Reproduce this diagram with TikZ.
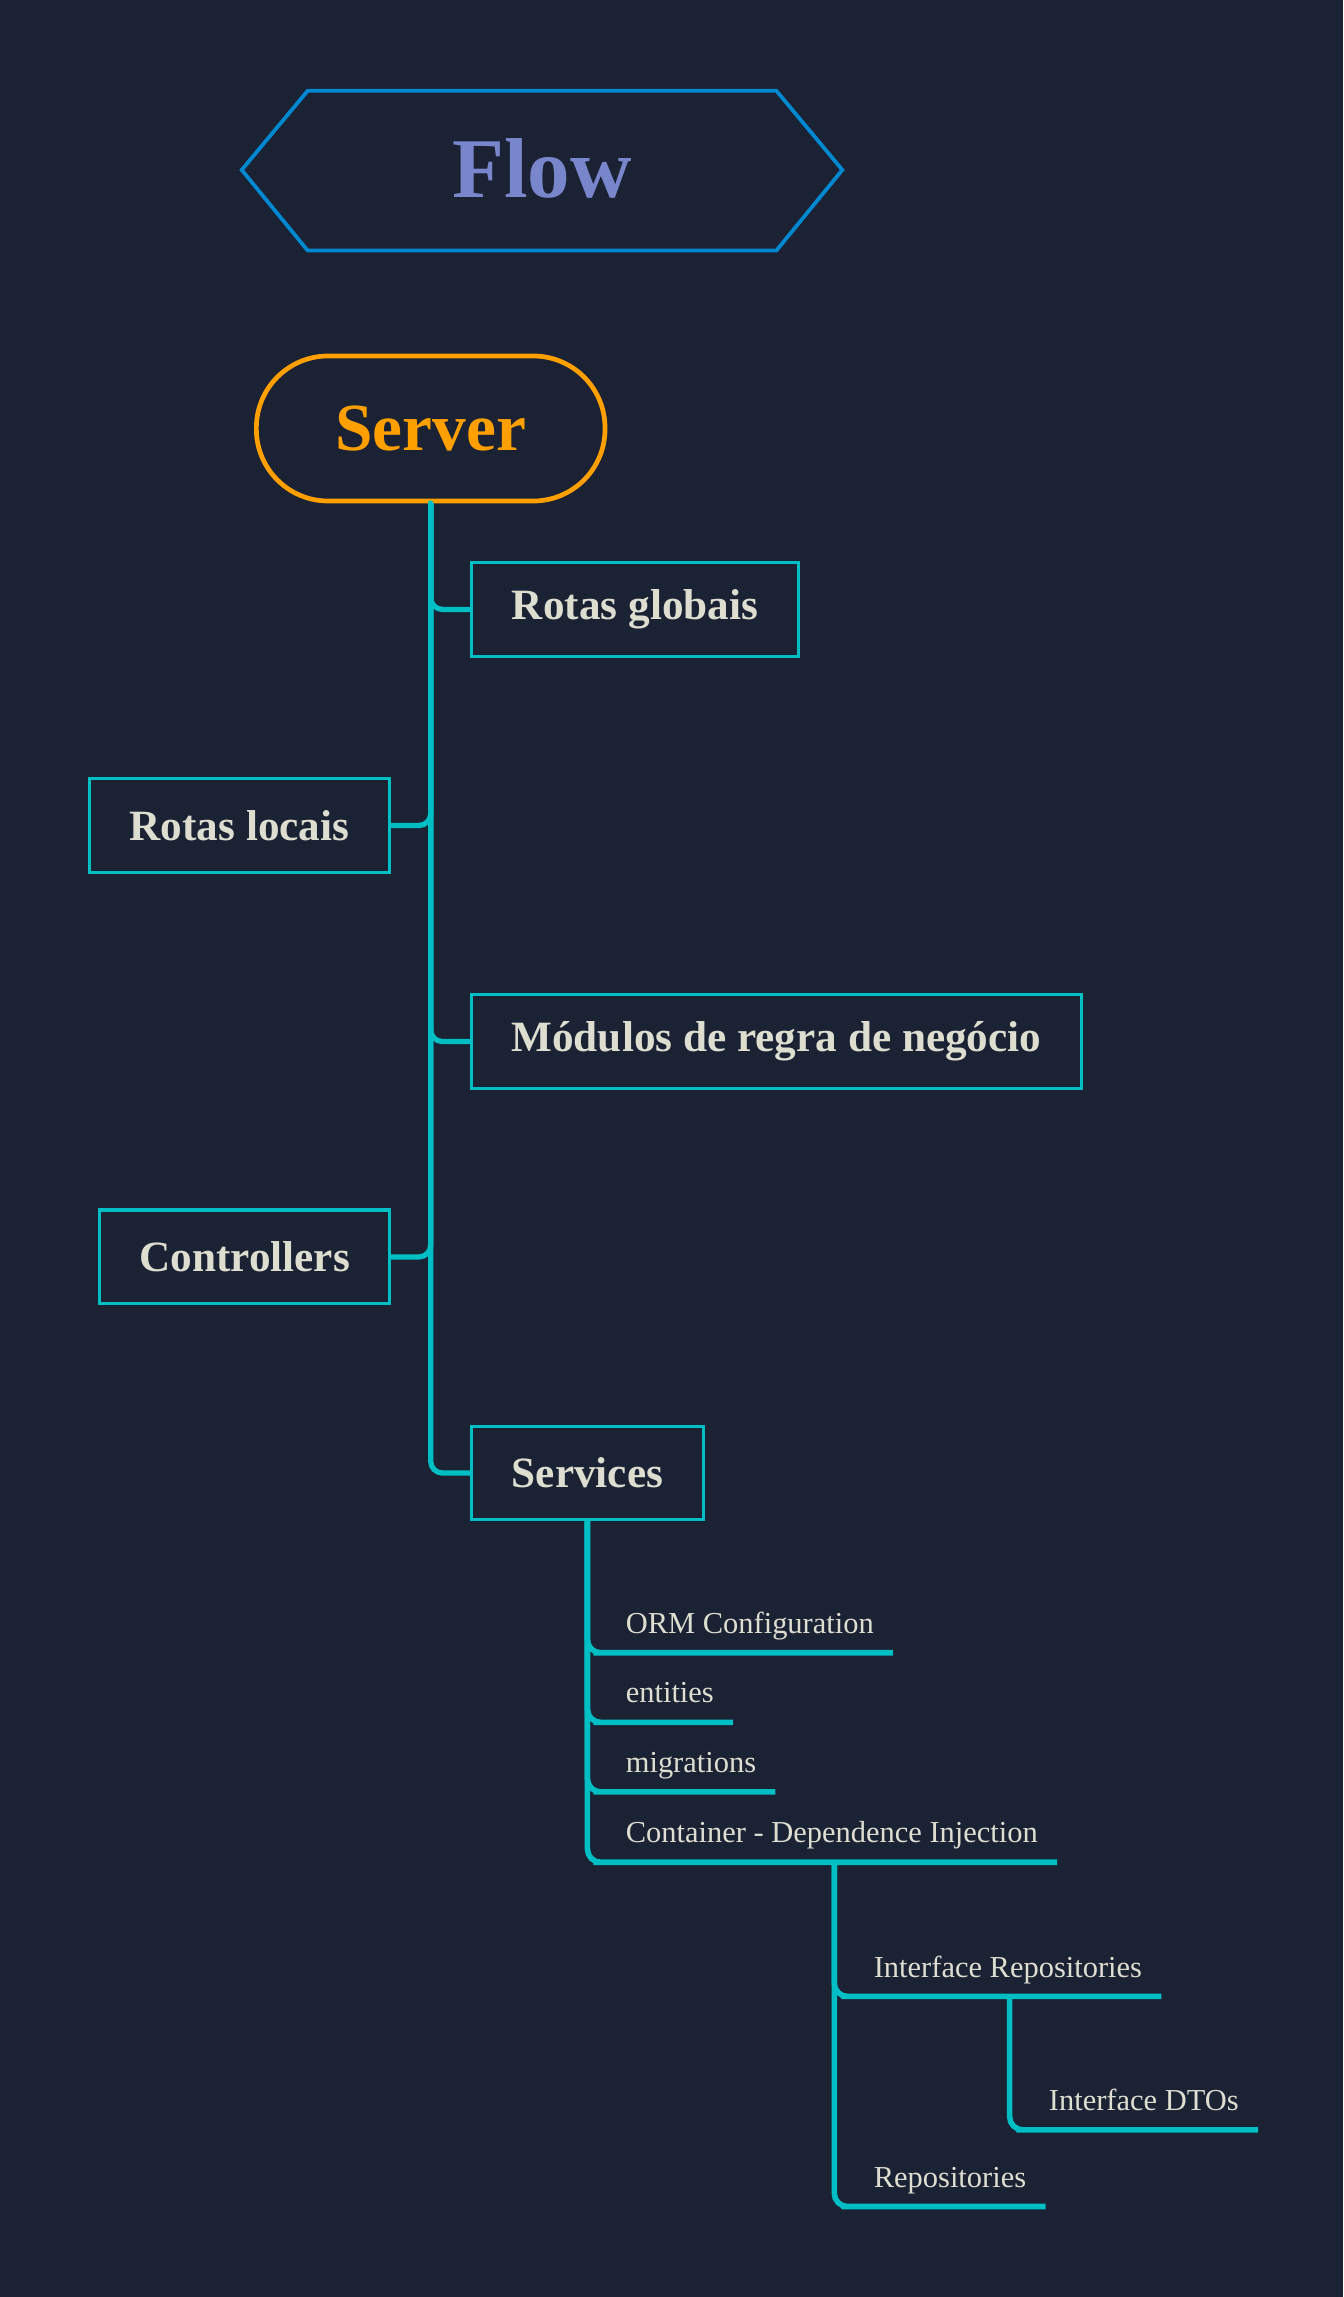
\documentclass[tikz,border=0pt]{standalone}
\usepackage{fontspec}
\setmainfont{Liberation Serif}
\usetikzlibrary{calc}
\definecolor{bg}{RGB}{27,34,52}
\definecolor{hexc}{RGB}{2,136,209}
\definecolor{flowc}{RGB}{121,134,203}
\definecolor{orangec}{RGB}{255,160,0}
\definecolor{cyanc}{RGB}{0,191,196}
\definecolor{txt}{RGB}{221,221,208}
\begin{document}
\begin{tikzpicture}[x=1pt,y=-1pt,
  box/.style={draw=cyanc, line width=2.2pt, minimum height=64pt, text=txt,
    font=\fontsize{29.5}{32}\selectfont\bfseries, inner sep=0pt},
  leaf/.style={text=txt, font=\fontsize{20.8}{23}\selectfont, inner xsep=13pt,
    inner ysep=13pt, text depth=0pt, anchor=base west},
  conn/.style={draw=cyanc, line width=3.6pt, rounded corners=8pt, line cap=round},
  sub/.style={draw=cyanc, line width=3.8pt, rounded corners=9pt}]
\fill[bg] (0,0) rectangle (917,1568);
\useasboundingbox (0,0) rectangle (917,1568);
% title
\draw[hexc, line width=2.6pt] (165,116) -- (210,62) -- (530,62) -- (575,116) -- (530,171) -- (210,171) -- cycle;
\node[text=flowc, font=\fontsize{58}{62}\selectfont\bfseries, inner sep=0pt] (title) at (370,115) {Flow};
% server
\node[draw=orangec, line width=3.2pt, rounded corners=49pt, minimum width=238pt, minimum height=99pt,
  text=orangec, font=\fontsize{46}{50}\selectfont\bfseries, inner sep=0pt] (server) at (294,292.5) {Server};
% boxes
\node[box, minimum width=223pt] (rg) at (433.5,416) {Rotas globais};
\node[box, minimum width=205pt] (rl) at (163.5,563.5) {Rotas locais};
\node[box, minimum width=416pt] (mod) at (530,711) {Módulos de regra de negócio};
\node[box, minimum width=198pt] (ctl) at (167,858) {Controllers};
\node[box, minimum width=158pt] (srv) at (401,1005.5) {Services};
% trunk connectors
\draw[conn] (server.south) |- (rg.west);
\draw[conn] (server.south) |- (rl.east);
\draw[conn] (server.south) |- (mod.west);
\draw[conn] (server.south) |- (ctl.east);
\draw[conn] (server.south) |- (srv.west);
% services subtree
\node[leaf] (orm) at (414,1115) {ORM Configuration};
\node[leaf] (ent) at (414,1162.5) {entities};
\node[leaf] (mig) at (414,1210) {migrations};
\node[leaf] (cont) at (414,1258) {Container - Dependence Injection};
\draw[sub] (srv.south) |- (orm.south west) -- (orm.south east);
\draw[sub] (srv.south) |- (ent.south west) -- (ent.south east);
\draw[sub] (srv.south) |- (mig.south west) -- (mig.south east);
\draw[sub] (srv.south) |- (cont.south west) -- (cont.south east);
\coordinate (cj) at ($(cont.south west)+(155.5,0)$);
\node[leaf] (ir) at (583.3,1349.6) {Interface Repositories};
\node[leaf] (repo) at (583.3,1493) {Repositories};
\draw[sub] (cj) |- (ir.south west) -- (ir.south east);
\draw[sub] (cj) |- (repo.south west) -- (repo.south east);
\coordinate (ij) at ($(ir.south west)+(105.9,0)$);
\node[leaf] (dto) at (702.8,1440.7) {Interface DTOs};
\draw[sub] (ij) |- (dto.south west) -- (dto.south east);
\end{tikzpicture}
\end{document}
